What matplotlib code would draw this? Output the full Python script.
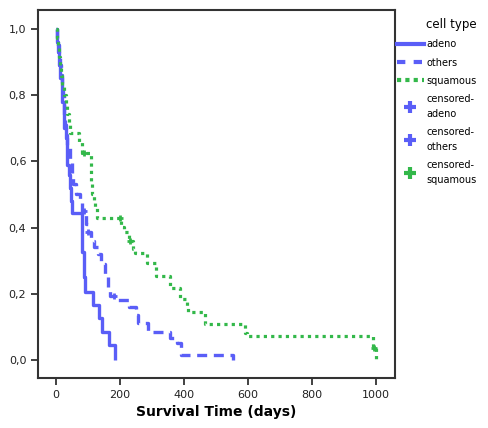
import matplotlib
matplotlib.use("Agg")
import matplotlib.pyplot as plt
from matplotlib.lines import Line2D
from matplotlib.ticker import FuncFormatter

# Kaplan-Meier steps (days, cumulative survival)
adeno_t = [0, 3, 7, 8, 12, 18, 19, 24, 25, 31, 35, 36, 42, 45, 48, 51, 80, 81, 82, 87, 89, 90,
           116, 134, 144, 166, 186]
adeno_s = [1.0, 0.96, 0.93, 0.89, 0.85, 0.81, 0.78, 0.74, 0.70, 0.67, 0.63, 0.59, 0.56, 0.52,
           0.48, 0.444, 0.40, 0.36, 0.326, 0.29, 0.25, 0.205, 0.166, 0.127, 0.085, 0.045, 0.0]

others_t = [0, 3, 7, 10, 12, 15, 19, 21, 24, 25, 29, 31, 36, 44, 51, 54, 63, 75, 80, 95, 99,
            110, 119, 130, 140, 153, 162, 168, 194, 228, 250, 256, 288, 356, 378, 392, 553]
others_s = [1.0, 0.97, 0.95, 0.92, 0.89, 0.86, 0.83, 0.80, 0.77, 0.74, 0.71, 0.68, 0.65, 0.60,
            0.56, 0.53, 0.50, 0.48, 0.45, 0.41, 0.387, 0.36, 0.34, 0.32, 0.29, 0.257, 0.22,
            0.193, 0.18, 0.16, 0.136, 0.112, 0.085, 0.066, 0.051, 0.015, 0.0]

squam_t = [0, 3, 6, 9, 12, 16, 19, 25, 30, 34, 41, 44, 72, 81, 109, 110, 111, 112, 118, 122,
           128, 203, 212, 228, 241, 246, 284, 312, 356, 387, 409, 412, 466, 591, 597, 992, 999]
squam_s = [1.0, 0.971, 0.943, 0.914, 0.886, 0.857, 0.829, 0.80, 0.771, 0.743, 0.714, 0.686,
           0.657, 0.625, 0.594, 0.563, 0.531, 0.50, 0.48, 0.46, 0.429, 0.402, 0.387, 0.36,
           0.335, 0.323, 0.293, 0.254, 0.218, 0.184, 0.163, 0.145, 0.109, 0.082, 0.0725,
           0.036, 0.0]

# censored cases
others_ct = [87, 100, 181]
others_cs = [0.45, 0.387, 0.193]
squam_ct = [87, 200, 231, 995]
squam_cs = [0.625, 0.429, 0.36, 0.036]

blue = '#5a5ef7'
green = '#33b84a'

fig = plt.figure(figsize=(4.88, 4.28), dpi=100)
ax = fig.add_axes([0.078, 0.117, 0.731, 0.860])

ax.step(adeno_t, adeno_s, where='post', color=blue, lw=2.4, solid_capstyle='butt')
ax.step(others_t, others_s, where='post', color=blue, lw=2.4, ls=(0, (3, 2)))
ax.step(squam_t, squam_s, where='post', color=green, lw=2.3, ls=(0, (1, 1.3)))

ax.plot(others_ct, others_cs, ls='none', marker='+', ms=5, mew=2, color=blue)
ax.plot(squam_ct, squam_cs, ls='none', marker='+', ms=5, mew=2, color=green)

ax.set_xlim(-56, 1059)
ax.set_ylim(-0.054, 1.057)
ax.set_xticks([0, 200, 400, 600, 800, 1000])
ax.set_yticks([0.0, 0.2, 0.4, 0.6, 0.8, 1.0])
ax.yaxis.set_major_formatter(FuncFormatter(lambda v, p: ('%.1f' % v).replace('.', ',')))
ax.tick_params(direction='out', length=5, width=1.3, color='#333333', labelsize=8,
               labelcolor='#222222')
for s in ax.spines.values():
    s.set_color('#333333')
    s.set_linewidth(1.5)
ax.set_xlabel('Survival Time (days)', fontsize=10, fontweight='bold', labelpad=4)

handles = [
    Line2D([], [], color=blue, lw=3),
    Line2D([], [], color=blue, lw=3, ls=(0, (2, 2))),
    Line2D([], [], color=green, lw=3, ls=(0, (1, 1))),
    Line2D([], [], ls='none', marker='+', ms=8, mew=3, color=blue),
    Line2D([], [], ls='none', marker='+', ms=8, mew=3, color=blue),
    Line2D([], [], ls='none', marker='+', ms=8, mew=3, color=green),
]
labels = ['adeno', 'others', 'squamous', 'censored-\nadeno', 'censored-\nothers',
          'censored-\nsquamous']
leg = fig.legend(handles, labels, loc='upper left', bbox_to_anchor=(0.805, 0.967),
                 frameon=False, fontsize=7, title='cell type', title_fontsize=8.5,
                 handlelength=2.8, handletextpad=0.3, labelspacing=0.85, borderaxespad=0)
leg._legend_box.align = 'right'
for t in leg.get_texts():
    t.set_linespacing(1.6)

fig.savefig('out.png', dpi=100)
